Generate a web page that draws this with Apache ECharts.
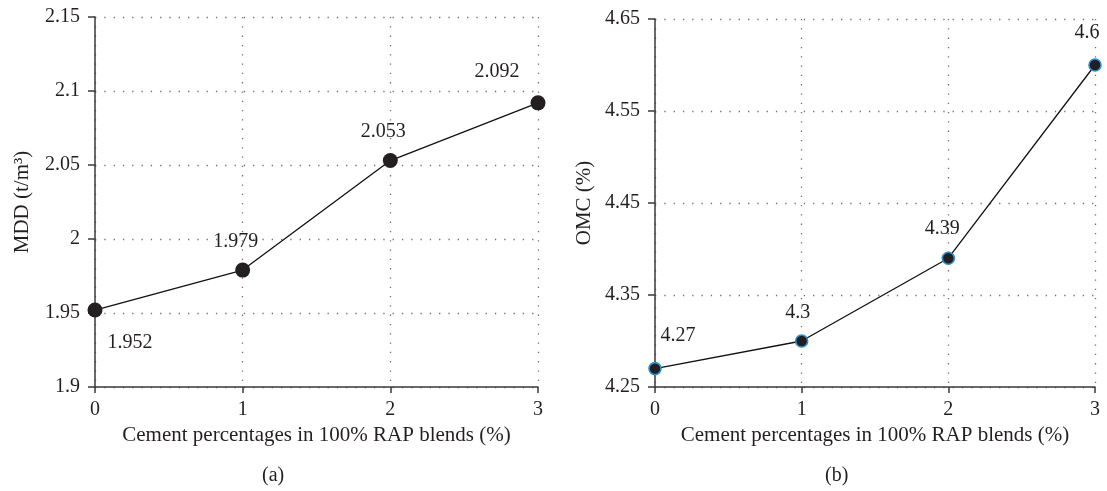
<!DOCTYPE html>
<html>
<head>
<meta charset="utf-8">
<script src="https://cdn.jsdelivr.net/npm/echarts@6/dist/echarts.min.js"></script>
<style>
html,body{margin:0;padding:0;background:#fff;}
#chart{width:1107px;height:491px;}
</style>
</head>
<body>
<div id="chart"></div>
<script>
// ---- data ----
const cementPct = [0, 1, 2, 3];
const mddValues = [1.952, 1.979, 2.053, 2.092];
const omcValues = [4.27, 4.3, 4.39, 4.6];
const mddTicks = [1.9, 1.95, 2, 2.05, 2.1, 2.15];
const omcTicks = [4.25, 4.35, 4.45, 4.55, 4.65];
const xTitle = 'Cement percentages in 100% RAP blends (%)';
const mddTitle = 'MDD (t/m\u00B3)';
const omcTitle = 'OMC (%)';
const panelLabels = ['(a)', '(b)'];

// ---- layout (not data) ----
const mddLabelOffsets = [[35, 33], [-7, -28], [-7, -29], [-41, -31]];
const omcLabelOffsets = [[23, -33], [-4, -28], [-6, -29], [-8, -32]];

const FONT = '"Liberation Serif", "DejaVu Serif", serif';
const TXT = '#231f20';
const AX = '#3a3a3a';
const gridLine = { show: true, lineStyle: { color: '#707070', width: 1.3, type: [1.3, 8] } };

function xAxis(gridIndex) {
  return {
    type: 'value', gridIndex, min: 0, max: 3, interval: 1,
    name: xTitle, nameLocation: 'middle', nameGap: 38,
    nameTextStyle: { fontFamily: FONT, fontSize: 21, color: TXT },
    axisLine: { show: true, onZero: false, lineStyle: { color: AX, width: 1.5 } },
    axisTick: { show: true, length: 6, lineStyle: { color: AX, width: 1.5 } },
    axisLabel: { fontFamily: FONT, fontSize: 20, color: TXT, margin: 13 },
    splitLine: gridLine
  };
}

const option = {
  animation: false,
  backgroundColor: '#fff',
  textStyle: { fontFamily: FONT },
  grid: [
    { left: 95, top: 17, width: 443, height: 370 },
    { left: 655, top: 19, width: 440, height: 368 }
  ],
  graphic: [
    { type: 'text', left: 262, top: 466, style: { text: panelLabels[0], font: '20px ' + FONT, fill: TXT } },
    { type: 'text', left: 825, top: 466, style: { text: panelLabels[1], font: '20px ' + FONT, fill: TXT } }
  ],
  xAxis: [xAxis(0), xAxis(1)],
  yAxis: [
    {
      type: 'value', gridIndex: 0, min: mddTicks[0], max: mddTicks[mddTicks.length - 1], interval: 0.05,
      name: mddTitle, nameLocation: 'middle', nameGap: 62, nameRotate: 90,
      nameTextStyle: { fontFamily: FONT, fontSize: 21, color: TXT },
      axisLine: { show: true, lineStyle: { color: AX, width: 1.5 } },
      axisTick: { show: true, length: 7, lineStyle: { color: AX, width: 1.5 } },
      axisLabel: { fontFamily: FONT, fontSize: 20, color: TXT, margin: 15 },
      splitLine: gridLine
    },
    {
      type: 'value', gridIndex: 1, min: omcTicks[0], max: omcTicks[omcTicks.length - 1], interval: 0.05,
      name: omcTitle, nameLocation: 'middle', nameGap: 60, nameRotate: 90,
      nameTextStyle: { fontFamily: FONT, fontSize: 21, color: TXT },
      axisLine: { show: true, lineStyle: { color: AX, width: 1.5 } },
      axisTick: { show: true, length: 7, customValues: omcTicks, lineStyle: { color: AX, width: 1.5 } },
      axisLabel: { fontFamily: FONT, fontSize: 20, color: TXT, margin: 15, customValues: omcTicks },
      splitLine: gridLine
    }
  ],
  series: [
    {
      type: 'line', xAxisIndex: 0, yAxisIndex: 0,
      data: cementPct.map((x, i) => ({
        value: [x, mddValues[i]],
        label: { offset: mddLabelOffsets[i] }
      })),
      symbol: 'circle', symbolSize: 15,
      itemStyle: { color: '#231f20' },
      lineStyle: { color: '#111', width: 1.3 },
      label: { show: true, position: 'inside', fontFamily: FONT, fontSize: 20, color: TXT,
        formatter: p => String(p.value[1]) },
      z: 5
    },
    {
      type: 'line', xAxisIndex: 1, yAxisIndex: 1,
      data: cementPct.map((x, i) => ({
        value: [x, omcValues[i]],
        label: { offset: omcLabelOffsets[i] }
      })),
      symbol: 'circle', symbolSize: 12,
      itemStyle: { color: '#231f20', borderColor: '#2b8fd4', borderWidth: 1.6 },
      lineStyle: { color: '#111', width: 1.3 },
      label: { show: true, position: 'inside', fontFamily: FONT, fontSize: 20, color: TXT,
        formatter: p => String(p.value[1]) },
      z: 5
    }
  ]
};

const chart = echarts.init(document.getElementById('chart'), null, { renderer: 'canvas' });
chart.setOption(option);
</script>
</body>
</html>
